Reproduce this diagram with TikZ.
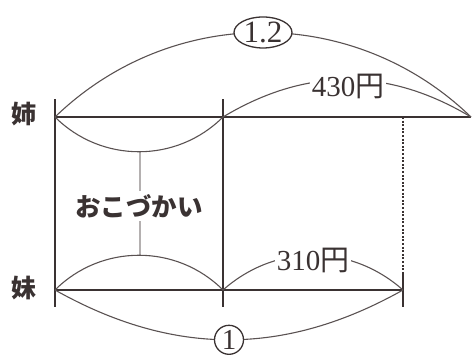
\documentclass[tikz,border=0pt]{standalone}
\usepackage{fontspec}
\setmainfont{Liberation Serif}
\newfontfamily\jp{Noto Sans CJK JP}
\usetikzlibrary{shapes.geometric}
\definecolor{ink}{HTML}{3A3232}
\definecolor{arcc}{HTML}{5A5252}
\definecolor{graybar}{HTML}{B4B0B0}
\tikzset{
  barline/.style={draw=ink, line width=1.8pt},
  tickline/.style={draw=ink, line width=1.6pt},
  arcline/.style={draw=arcc, line width=1.1pt},
  dashline/.style={draw=ink, line width=1.2pt, dash pattern=on 2pt off 1.6pt},
  numlbl/.style={fill=white, inner sep=2pt, font=\fontsize{29}{29}\selectfont, text=ink},
  who/.style={font=\jp\bfseries\fontsize{25}{25}\selectfont, text=ink},
}
\begin{document}
\begin{tikzpicture}[x=1pt,y=-1pt]
\useasboundingbox (0,0) rectangle (472,356);
% points
\coordinate (A1) at (55,117);
\coordinate (A2) at (223,117);
\coordinate (A3) at (471,117);
\coordinate (B1) at (55,290);
\coordinate (B2) at (223,290);
\coordinate (B3) at (403,290);
\coordinate (T1) at (55,99);
\coordinate (U1) at (55,307);
\coordinate (T2) at (223,99);
\coordinate (U2) at (223,307);
\coordinate (D1) at (403,117);
\coordinate (D2) at (403,272);
\coordinate (D3) at (403,307);
\coordinate (G1) at (140,152);
\coordinate (G2) at (140,255);
% labels left
\node[who] (ane) at (24,114) {姉};
\node[who] (imo) at (24,288) {妹};
% bars
\draw[barline] (A1) -- (A3);
\draw[barline] (B1) -- (B3);
\draw[tickline] (T1) -- (U1);
\draw[tickline] (T2) -- (U2);
\draw[dashline] (D1) -- (D2);
\draw[tickline, line width=1.2pt] (D2) -- (D3);
% gray connector
\draw[draw=graybar, line width=1.8pt] (G1) -- (G2);
\node[fill=white, inner sep=3pt, font=\jp\bfseries\fontsize{25.5}{25.5}\selectfont, text=ink] (okozukai) at (139,206) {おこづかい};
% arcs
\draw[arcline] (A1) to[bend left=44] node[pos=0.5, ellipse, draw=ink, line width=1.3pt, fill=white, minimum width=58pt, minimum height=31pt, inner sep=0pt, font=\fontsize{31}{31}\selectfont, text=ink] (r12) {1.2} (A3);
\draw[arcline] (A2) to[bend left=31] (A3);
\node[numlbl] (yen430) at (348,86) {430{\jp 円}};
\draw[arcline] (A1) to[bend right=45] (A2);
\draw[arcline] (B1) to[bend left=45] (B2);
\draw[arcline] (B2) to[bend left=41.5] (B3);
\node[numlbl] (yen310) at (313,260) {310{\jp 円}};
\draw[arcline] (B1) to[bend right=29.3] node[pos=0.5, circle, draw=ink, line width=1.3pt, fill=white, minimum size=29pt, inner sep=0pt, font=\fontsize{29}{29}\selectfont, text=ink] (r1) {1} (B3);
\end{tikzpicture}
\end{document}
